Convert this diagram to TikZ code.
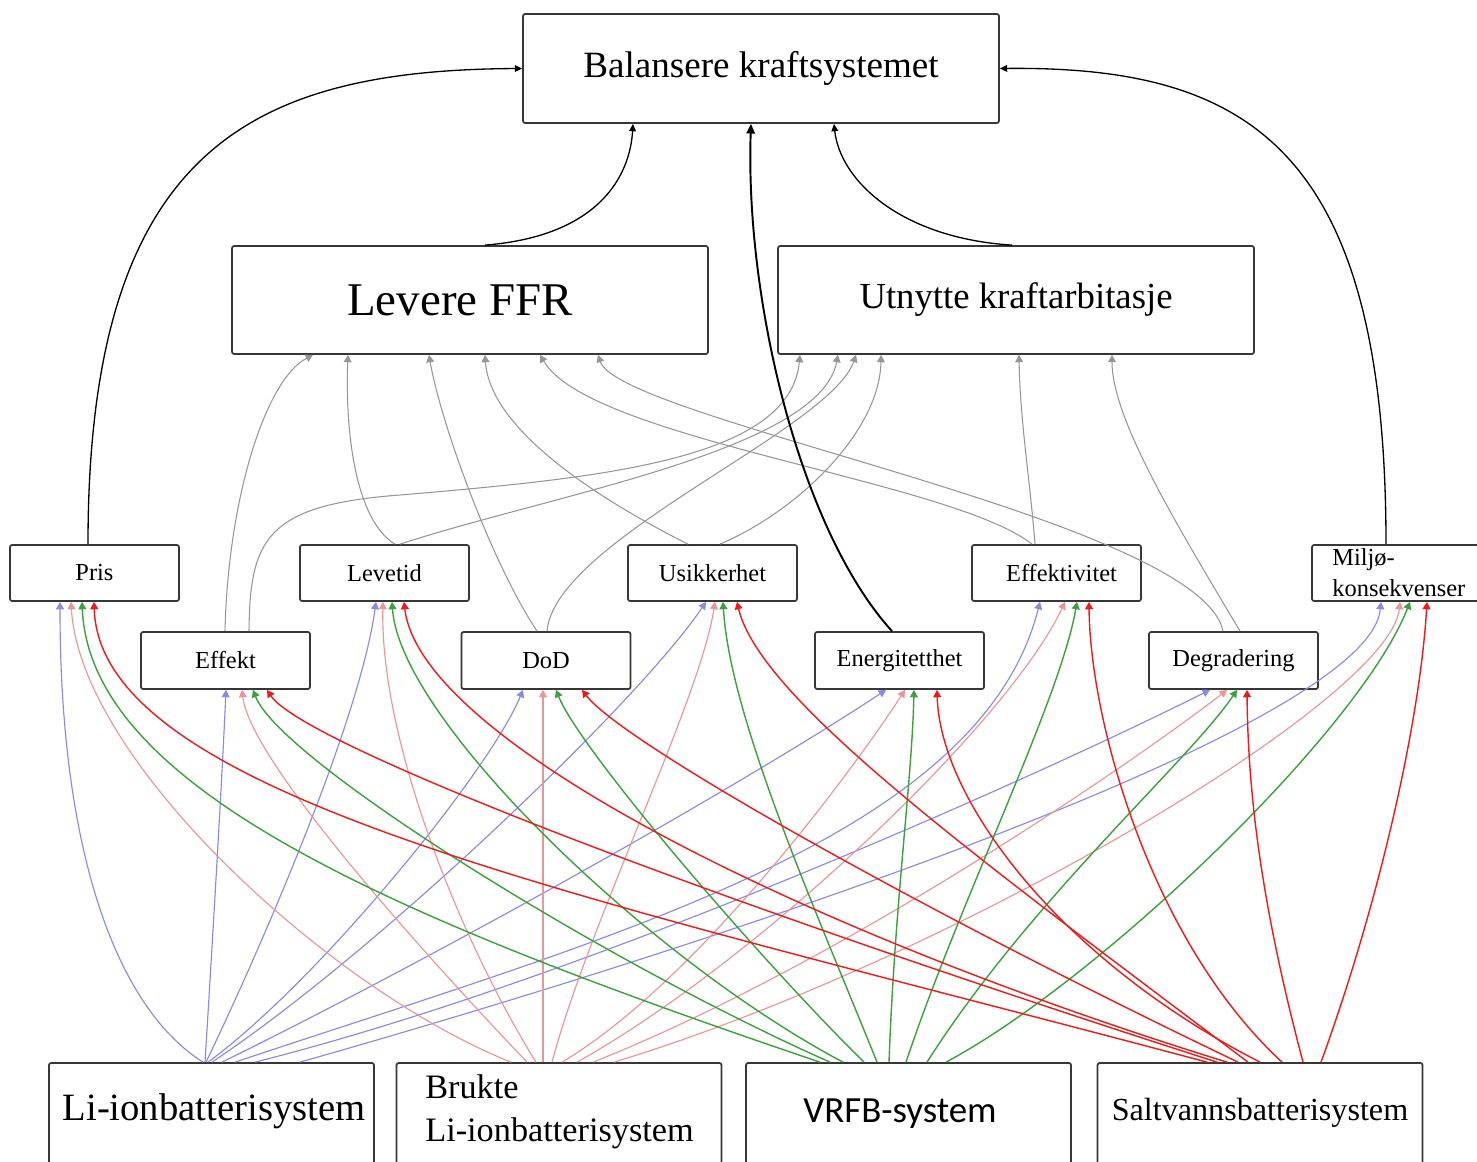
\documentclass[tikz,border=0pt]{standalone}
\usepackage{fontspec}
\setmainfont{Liberation Serif}
\newfontfamily\calibrifont{Carlito}
\usetikzlibrary{arrows.meta}

\definecolor{liblue}{RGB}{138,138,226}
\definecolor{brpink}{RGB}{232,150,150}
\definecolor{vrgreen}{RGB}{60,160,60}
\definecolor{sared}{RGB}{240,24,24}
\definecolor{edgegray}{RGB}{150,150,150}
\definecolor{boxline}{RGB}{55,55,55}

\tikzset{
  box/.style={draw=boxline, line width=1pt, rounded corners=1.2pt, inner sep=0pt},
  goalbox/.style={box, minimum width=9.52cm, minimum height=2.16cm},
  factor/.style={box, minimum width=3.38cm, minimum height=1.12cm, font=\fontsize{13.9}{16}\selectfont},
  factorlow/.style={factor, minimum height=1.14cm},
  system/.style={box, minimum width=6.5cm, minimum height=2.74cm},
  tipsmall/.style={-{Triangle[length=4.2pt,width=4.5pt]}},
  gy/.style={tipsmall, draw=edgegray, line width=0.6pt},
  bl/.style={tipsmall, draw=liblue, line width=0.65pt},
  pk/.style={tipsmall, draw=brpink, line width=0.65pt},
  gr/.style={tipsmall, draw=vrgreen, line width=0.8pt},
  rd/.style={tipsmall, draw=sared, line width=0.8pt},
  blk/.style={-{Triangle[length=4.2pt,width=3.8pt]}, draw=black, line width=0.75pt},
  blkthick/.style={-{Triangle[length=5.5pt,width=4.8pt]}, draw=black, line width=1.1pt},
}

\begin{document}
\begin{tikzpicture}[x=0.02cm, y=-0.02cm]
\useasboundingbox (0,0) rectangle (1477,1162);

% goals
\node[goalbox, minimum height=2.18cm, font=\fontsize{21.1}{25}\selectfont] (bal) at (761,68.5) {Balansere kraftsystemet};
\node[goalbox, font=\fontsize{26.7}{31}\selectfont] (ffr) at (470,300) {\kern-0.4cm Levere FFR};
\node[goalbox, font=\fontsize{20.9}{25}\selectfont] (arb) at (1016,300) {Utnytte kraftarbitasje};

% criteria, upper row
\node[factor] (pris) at (94.5,573) {Pris};
\node[factor] (levetid) at (384.5,573) {Levetid};
\node[factor] (usikk) at (712.5,573) {Usikkerhet};
\node[factor] (effektiv) at (1056.5,573) {\kern0.2cm Effektivitet};
\node[factor, minimum width=3.6cm] (miljo) at (1402,573) {};
\node[anchor=west, align=left, inner sep=0pt, font=\fontsize{13.9}{17.6}\selectfont] (miljoT) at (1332,573) {Miljø-\\konsekvenser};

% criteria, lower row
\node[factorlow] (effekt) at (225.5,660.5) {Effekt};
\node[factorlow] (dod) at (546,660.5) {DoD};
\node[factorlow] (energi) at (899.5,660.5) {Energitetthet};
\node[factorlow] (degr) at (1233.5,660.5) {Degradering};

% battery systems
\node[system] (li) at (211.5,1131.5) {};
\node[system] (brukte) at (559,1131.5) {};
\node[system] (vrfb) at (908.5,1131.5) {};
\node[system] (salt) at (1260,1131.5) {};
\node[font=\fontsize{22}{26}\selectfont] (liT) at (214,1111) {Li-ionbatterisystem};
\node[anchor=west, align=left, inner sep=0pt, font=\fontsize{19.5}{24.5}\selectfont] (bruT) at (425,1112) {Brukte\\Li-ionbatterisystem};
\node[font=\calibrifont\fontsize{21}{25}\selectfont] (vrT) at (900,1114) {VRFB-system};
\node[font=\fontsize{18.3}{22}\selectfont] (saltT) at (1260,1113) {Saltvannsbatterisystem};

% criteria -> goals (grey)
\draw[gy] (effekt.north -| 225,0) .. controls (228,500) and (265,380) .. (ffr.south -| 313,0);
\draw[gy] (effekt.north -| 249,0) .. controls (250,540) and (265,505) .. (400,495) .. controls (600,478) and (790,460) .. (arb.south -| 800,0);
\draw[gy] (levetid.north -| 395,0) .. controls (355,520) and (345,430) .. (ffr.south -| 348,0);
\draw[gy] (levetid.north -| 400,0) .. controls (550,495) and (820,450) .. (arb.south -| 838,0);
\draw[gy] (dod.north -| 537,0) .. controls (490,560) and (440,420) .. (ffr.south -| 429,0);
\draw[gy] (dod.north -| 547,0) .. controls (555,540) and (830,430) .. (arb.south -| 856,0);
\draw[gy] (usikk.north -| 688,0) .. controls (600,500) and (490,430) .. (ffr.south -| 485,0);
\draw[gy] (usikk.north -| 720,0) .. controls (800,510) and (880,430) .. (arb.south -| 881,0);
\draw[gy] (effektiv.north -| 1032,0) .. controls (950,480) and (590,440) .. (ffr.south -| 540,0);
\draw[gy] (effektiv.north -| 1035,0) .. controls (1030,480) and (1020,420) .. (arb.south -| 1019,0);
\draw[gy] (degr.north -| 1223,0) .. controls (1200,520) and (620,420) .. (ffr.south -| 598,0);
\draw[gy] (degr.north -| 1240,0) .. controls (1180,530) and (1112,420) .. (arb.south -| 1112,0);

% to the main goal (black)
\draw[blk] (pris.north -| 88,0) .. controls (88,150) and (250,70) .. (bal.west);
\draw[blk] (ffr.north -| 485,0) .. controls (600,236) and (630,175) .. (bal.south -| 633,0);
\draw[blkthick] (energi.north -| 892,0) .. controls (800,530) and (745,300) .. (bal.south -| 751,0);
\draw[blk] (arb.north -| 1012,0) .. controls (900,238) and (840,180) .. (bal.south -| 834,0);
\draw[blk] (miljo.north -| 1386,0) .. controls (1386,150) and (1250,66) .. (bal.east);

% Li-ion (blue)
\draw[bl] (li.north -| 203,0) .. controls (120,1010) and (60,860) .. (pris.south -| 60,0);
\draw[bl] (li.north -| 205,0) .. controls (212,950) and (222,780) .. (effekt.south -| 226,0);
\draw[bl] (li.north -| 206,0) .. controls (260,950) and (360,720) .. (levetid.south -| 376,0);
\draw[bl] (li.north -| 208,0) .. controls (320,980) and (490,770) .. (dod.south -| 523,0);
\draw[bl] (li.north -| 212,0) .. controls (380,950) and (640,700) .. (usikk.south -| 706,0);
\draw[bl] (li.north -| 222,0) .. controls (450,950) and (750,780) .. (energi.south -| 886,0);
\draw[bl] (li.north -| 235,0) .. controls (600,940) and (980,840) .. (effektiv.south -| 1040,0);
\draw[bl] (li.north -| 255,0) .. controls (600,975) and (1050,770) .. (degr.south -| 1210,0);
\draw[bl] (li.north -| 300,0) .. controls (800,920) and (1370,720) .. (miljo.south -| 1381,0);

% used Li-ion (pink)
\draw[pk] (brukte.north -| 511,0) .. controls (330,990) and (80,760) .. (pris.south -| 71,0);
\draw[pk] (brukte.north -| 527,0) .. controls (420,950) and (250,760) .. (effekt.south -| 242,0);
\draw[pk] (brukte.north -| 536,0) .. controls (460,940) and (380,740) .. (levetid.south -| 383,0);
\draw[pk] (brukte.north -| 543,0) -- (dod.south -| 543,0);
\draw[pk] (brukte.north -| 552,0) .. controls (590,920) and (700,700) .. (usikk.south -| 715,0);
\draw[pk] (brukte.north -| 562,0) .. controls (700,980) and (860,760) .. (energi.south -| 905,0);
\draw[pk] (brukte.north -| 577,0) .. controls (760,960) and (1010,720) .. (effektiv.south -| 1065,0);
\draw[pk] (brukte.north -| 593,0) .. controls (850,960) and (1150,750) .. (degr.south -| 1227,0);
\draw[pk] (brukte.north -| 614,0) .. controls (950,960) and (1390,700) .. (miljo.south -| 1400,0);

% VRFB (green)
\draw[gr] (vrfb.north -| 820,0) .. controls (400,920) and (90,790) .. (pris.south -| 82,0);
\draw[gr] (vrfb.north -| 830,0) .. controls (600,960) and (280,760) .. (effekt.south -| 253,0);
\draw[gr] (vrfb.north -| 843,0) .. controls (650,960) and (400,720) .. (levetid.south -| 392,0);
\draw[gr] (vrfb.north -| 864,0) .. controls (760,960) and (580,750) .. (dod.south -| 556,0);
\draw[gr] (vrfb.north -| 877,0) .. controls (820,920) and (730,720) .. (usikk.south -| 723,0);
\draw[gr] (vrfb.north -| 889,0) .. controls (895,900) and (912,780) .. (energi.south -| 914,0);
\draw[gr] (vrfb.north -| 906,0) .. controls (960,900) and (1060,700) .. (effektiv.south -| 1077,0);
\draw[gr] (vrfb.north -| 927,0) .. controls (1030,900) and (1190,760) .. (degr.south -| 1237,0);
\draw[gr] (vrfb.north -| 946,0) .. controls (1100,980) and (1360,730) .. (miljo.south -| 1410,0);

% salt water (red)
\draw[rd] (salt.north -| 1207,0) .. controls (600,900) and (100,800) .. (pris.south -| 94,0);
\draw[rd] (salt.north -| 1217,0) .. controls (650,880) and (300,740) .. (effekt.south -| 267,0);
\draw[rd] (salt.north -| 1227,0) .. controls (800,930) and (420,740) .. (levetid.south -| 404,0);
\draw[rd] (salt.north -| 1238,0) .. controls (900,900) and (620,740) .. (dod.south -| 582,0);
\draw[rd] (salt.north -| 1248,0) .. controls (980,860) and (760,700) .. (usikk.south -| 737,0);
\draw[rd] (salt.north -| 1260,0) .. controls (1060,960) and (940,800) .. (energi.south -| 937,0);
\draw[rd] (salt.north -| 1282,0) .. controls (1150,940) and (1090,720) .. (effektiv.south -| 1089,0);
\draw[rd] (salt.north -| 1303,0) .. controls (1260,900) and (1248,790) .. (degr.south -| 1247,0);
\draw[rd] (salt.north -| 1321,0) .. controls (1380,900) and (1420,720) .. (miljo.south -| 1427,0);
\end{tikzpicture}
\end{document}
